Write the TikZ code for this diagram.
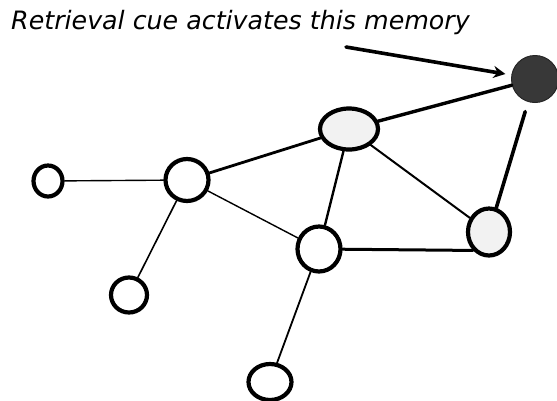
\documentclass[tikz,border=0pt]{standalone}
\usepackage{fontspec}
\setmainfont{DejaVu Sans}
\usetikzlibrary{arrows.meta,shapes.geometric}
\begin{document}
\begin{tikzpicture}[x=1pt,y=-1pt,
  memnode/.style={draw=black,line width=4.2pt,ellipse,inner sep=0pt,fill=white},
  primed/.style={memnode,fill=gray!10},
  active/.style={draw=black!85,line width=1pt,circle,inner sep=0pt,fill=black!78},
  link/.style={draw=black,line cap=round}]
  \useasboundingbox (0,0) rectangle (557,400);

  % caption
  \node[anchor=base west,inner sep=0pt,font=\itshape\fontsize{25.3}{30}\selectfont]
    (caption) at (11,29) {Retrieval cue activates this memory};

  % memory network nodes
  \node[active,minimum size=47pt] (D) at (535,79) {};
  \node[primed,minimum width=58pt,minimum height=41pt] (E) at (349,129) {};
  \node[primed,minimum width=42pt,minimum height=47pt] (R) at (489,232) {};
  \node[memnode,minimum width=43pt,minimum height=45pt] (M) at (319,249) {};
  \node[memnode,minimum width=43pt,minimum height=42pt] (H) at (187,180) {};
  \node[memnode,minimum width=29pt,minimum height=31pt] (L) at (48,181) {};
  \node[memnode,minimum width=36pt,minimum height=35pt] (LL) at (129,295) {};
  \node[memnode,minimum width=43pt,minimum height=36pt] (B) at (270,382) {};

  % associative links
  \draw[link,line width=1.4pt] (L) -- (H);
  \draw[link,line width=2.8pt] (H) -- (E);
  \draw[link,line width=1.4pt] (H) -- (M);
  \draw[link,line width=1.6pt] (H) -- (LL);
  \draw[link,line width=2.4pt] (E) -- (M);
  \draw[link,line width=2pt] (E) -- (R);
  \draw[link,line width=3.4pt] (E) -- (D);
  \draw[link,line width=3pt] (M) -- (R.229);
  \draw[link,line width=1.8pt] (M) -- (B);
  \draw[link,line width=3.6pt,shorten <=10pt] (D) -- (R);

  % retrieval cue arrow
  \coordinate (cue) at (346,47);
  \draw[link,line width=3.6pt,-{Stealth[length=12pt,width=12pt]},shorten >=6pt] (cue) -- (D);
\end{tikzpicture}
\end{document}
